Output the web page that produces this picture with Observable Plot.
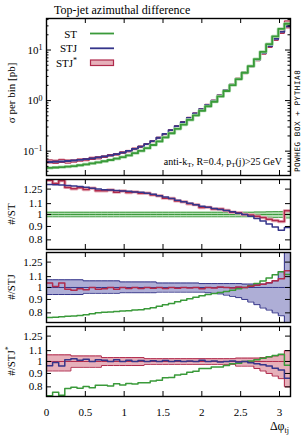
<!DOCTYPE html>
<html><head><meta charset="utf-8">
<script src="https://cdn.jsdelivr.net/npm/d3@7"></script>
<script src="https://cdn.jsdelivr.net/npm/@observablehq/plot@0.6"></script>
<style>
body{margin:0;background:#fff;}
#wrap{position:relative;width:305px;height:436px;overflow:hidden;}
#wrap svg{position:absolute;left:0;}
</style></head><body><div id="wrap"></div>
<script>
// ---- data (40 bins of Δφ_tj from 0 to π) ----
const nBins = 40;
const xTicks = [0, 0.5, 1, 1.5, 2, 2.5, 3];
const yTicksMain = [0.1, 1, 10];
const yTicksRatio = [0.8, 0.9, 1, 1.1, 1.25];
// cross sections per bin [pb]
const st = [0.0469,0.0475,0.0482,0.0495,0.0508,0.0526,0.0547,0.0571,0.0600,0.0631,
  0.0668,0.0710,0.0763,0.0824,0.0910,0.1012,0.1145,0.1322,0.156,0.188,
  0.226,0.276,0.336,0.414,0.510,0.629,0.772,0.948,1.206,1.546,
  2.02,2.66,3.55,4.80,6.61,9.22,13.04,18.55,26.3,33.1];
const stj = [0.0610,0.0617,0.0624,0.0638,0.0653,0.0673,0.0695,0.0719,0.0750,0.0785,
  0.0828,0.0877,0.0938,0.101,0.111,0.123,0.138,0.158,0.184,0.219,
  0.260,0.313,0.376,0.457,0.556,0.676,0.822,1.0,1.26,1.60,
  2.07,2.69,3.55,4.73,6.38,8.71,12.0,16.6,22.9,29.5];
const stjStar = [0.0634,0.0623,0.0649,0.0628,0.0637,0.0666,0.0681,0.0719,0.0739,0.0777,
  0.0828,0.0864,0.0938,0.100,0.111,0.122,0.138,0.157,0.184,0.217,
  0.260,0.311,0.376,0.455,0.556,0.669,0.822,0.995,1.266,1.60,
  2.06,2.70,3.55,4.78,6.51,8.97,12.5,17.6,24.7,34.2];
// relative uncertainty bands (up / down)
const stUp = [.02,.02,.02,.02,.02,.02,.02,.02,.02,.02,.02,.02,.02,.02,.02,.02,.02,.02,.02,.02,
  .02,.02,.02,.02,.02,.02,.02,.02,.02,.02,.02,.02,.02,.02,.022,.022,.024,.025,.025,.03];
const stDown = [.02,.02,.02,.02,.02,.02,.02,.02,.02,.02,.02,.02,.02,.02,.02,.02,.02,.02,.02,.02,
  .02,.02,.02,.02,.02,.02,.02,.02,.02,.02,.02,.02,.02,.02,.022,.022,.024,.025,.025,.03];
const stjUp = [.07,.07,.07,.07,.07,.07,.06,.06,.06,.06,.06,.06,.05,.05,.05,.05,.05,.05,.04,.04,
  .04,.04,.04,.04,.04,.035,.035,.035,.035,.035,.035,.035,.03,.03,.03,.03,.04,.06,.15,.5];
const stjDown = [.06,.06,.06,.06,.06,.06,.05,.05,.05,.05,.05,.05,.045,.045,.045,.045,.045,.045,.04,.04,
  .04,.04,.04,.04,.04,.04,.045,.05,.055,.065,.075,.085,.1,.12,.14,.165,.18,.2,.22,.5];
const stjStarUp = [.06,.06,.06,.06,.05,.05,.05,.05,.05,.035,.035,.035,.035,.035,.035,.035,.025,.025,.025,.025,
  .025,.025,.025,.025,.025,.025,.025,.025,.025,.025,.025,.03,.03,.03,.03,.035,.04,.05,.06,.1];
const stjStarDown = [.08,.08,.08,.08,.05,.05,.05,.05,.05,.035,.035,.035,.035,.035,.035,.035,.025,.025,.025,.025,
  .025,.025,.025,.025,.025,.025,.025,.025,.025,.025,.025,.04,.04,.04,.06,.08,.1,.12,.14,.2];

// ---- styling ----
const GREEN = "#3a9a3a", GREEN_L = "#b4deb4";
const BLUE = "#35358a", BLUE_F = "#aeaed6";
const RED = "#b02a4c", RED_F = "#e6b0ba";
const FONT = "'Liberation Serif','DejaVu Serif',serif";

const edges = d3.range(nBins + 1).map(i => i * Math.PI / nBins);
const steps = vals => {
  const p = vals.map((v, i) => ({x: edges[i], y: v}));
  p.push({x: edges[nBins], y: vals[nBins - 1]});
  return p;
};
const ratio = (a, b) => a.map((v, i) => v / b[i]);
const bandSteps = (up, down) => {
  const p = up.map((u, i) => ({x: edges[i], y1: 1 - down[i], y2: 1 + u}));
  p.push({x: edges[nBins], y1: 1 - down[nBins - 1], y2: 1 + up[nBins - 1]});
  return p;
};
const absBand = (vals, up, down) => {
  const p = vals.map((v, i) => ({x: edges[i], y1: v * (1 - down[i]), y2: v * (1 + up[i])}));
  p.push({x: edges[nBins], y1: p[nBins - 1].y1, y2: p[nBins - 1].y2});
  return p;
};
const line = (vals, stroke, w = 1.5) => Plot.line(steps(vals), {x: "x", y: "y", curve: "step-after", stroke, strokeWidth: w, clip: true});
const ones = new Array(nBins).fill(1);

const ML = 46, MR = 15, W = 305, PW = W - ML - MR;
const wrap = document.getElementById("wrap");
const NS = "http://www.w3.org/2000/svg";

function tickMarks(h, yVals, minor) {
  const m = [
    Plot.tickX(xTicks, {x: d => d, insetTop: h - 5, stroke: "#000", strokeWidth: 1}),
    Plot.tickX(xTicks, {x: d => d, insetBottom: h - 5, stroke: "#000", strokeWidth: 1}),
    Plot.tickY(yVals, {y: d => d, insetRight: PW - 5, stroke: "#000", strokeWidth: 1}),
    Plot.tickY(yVals, {y: d => d, insetLeft: PW - 5, stroke: "#000", strokeWidth: 1})
  ];
  if (minor) {
    m.push(Plot.tickY(minor, {y: d => d, insetRight: PW - 2.5, stroke: "#000", strokeWidth: 1}));
    m.push(Plot.tickY(minor, {y: d => d, insetLeft: PW - 2.5, stroke: "#000", strokeWidth: 1}));
  }
  return m;
}
const yLabels = (vals, fmt) => Plot.text(vals, {y: d => d, text: fmt, frameAnchor: "left", dx: -4, textAnchor: "end", lineAnchor: "middle", fontSize: 11});

function panel(top, h, yOpts, marks, last) {
  const mb = last ? 40 : 1;
  const svg = Plot.plot({
    width: W, height: h + 1 + mb,
    marginLeft: ML, marginRight: MR, marginTop: 1, marginBottom: mb,
    style: {fontFamily: FONT, fontSize: "11px", background: "transparent", color: "#000", overflow: "visible"},
    x: {domain: [0, Math.PI], axis: null},
    y: {...yOpts, axis: null},
    marks
  });
  svg.style.top = (top - 1) + "px";
  wrap.appendChild(svg);
  return svg;
}

// ---- main panel ----
const minorMain = [];
for (const dec of [0.01, 0.1, 1, 10]) for (let k = 2; k <= 9; k++) {
  const v = k * dec; if (v > 0.033 && v < 42) minorMain.push(v);
}
const mainSvg = panel(18, 157, {type: "log", domain: [0.033, 42]}, [
  Plot.areaY(absBand(stjStar, stjStarUp, stjStarDown), {x: "x", y1: "y1", y2: "y2", curve: "step-after", fill: RED_F, clip: true}),
  line(stjStar.map((v, i) => v * (1 + stjStarUp[i])), RED, 1),
  line(stjStar.map((v, i) => v * (1 - stjStarDown[i])), RED, 1),
  line(stj, BLUE, 1.8),
  line(st, GREEN_L, 3.2),
  line(st, GREEN, 1.8),
  ...tickMarks(157, yTicksMain, minorMain),
  yLabels(yTicksMain, d => "10^" + Math.round(Math.log10(d))),
  Plot.frame({stroke: "#000", strokeWidth: 1.4})
]);
mainSvg.querySelectorAll("text").forEach(t => {
  const m = t.textContent.match(/^10\^(.+)$/);
  if (!m) return;
  t.textContent = "";
  const a = document.createElementNS(NS, "tspan"); a.textContent = "10";
  const b = document.createElementNS(NS, "tspan"); b.textContent = m[1].replace("-", "\u2212");
  b.setAttribute("dy", "-0.45em"); b.setAttribute("font-size", "8");
  t.append(a, b);
});

const ratioY = {type: "log", domain: [0.735, 1.36]};
const ratioLabels = () => yLabels(yTicksRatio, d => String(d));

// ---- #/ST ----
panel(179, 70, ratioY, [
  Plot.areaY(bandSteps(stUp, stDown), {x: "x", y1: "y1", y2: "y2", curve: "step-after", fill: GREEN_L, clip: true}),
  line(stUp.map(u => 1 + u), GREEN, 1),
  line(stDown.map(d => 1 - d), GREEN, 1),
  line(ones, GREEN, 1),
  line(ratio(stjStar, st), RED_F, 3.4),
  line(ratio(stjStar, st), RED, 1.5),
  line(ratio(stj, st), BLUE, 1.5),
  ...tickMarks(70, yTicksRatio),
  ratioLabels(),
  Plot.frame({stroke: "#000", strokeWidth: 1.4})
]);

// ---- #/STJ ----
panel(252, 70, ratioY, [
  Plot.areaY(bandSteps(stjUp, stjDown), {x: "x", y1: "y1", y2: "y2", curve: "step-after", fill: BLUE_F, clip: true}),
  line(stjUp.map(u => 1 + u), BLUE, 1),
  line(stjDown.map(d => 1 - d), BLUE, 1),
  line(ones, BLUE, 1),
  line(ratio(st, stj), GREEN, 1.5),
  line(ratio(stjStar, stj), RED, 1.5),
  ...tickMarks(70, yTicksRatio),
  ratioLabels(),
  Plot.frame({stroke: "#000", strokeWidth: 1.4})
]);

// ---- #/STJ* ----
panel(326, 70, ratioY, [
  Plot.areaY(bandSteps(stjStarUp, stjStarDown), {x: "x", y1: "y1", y2: "y2", curve: "step-after", fill: RED_F, clip: true}),
  line(stjStarUp.map(u => 1 + u), RED, 1),
  line(stjStarDown.map(d => 1 - d), RED, 1),
  line(ones, RED, 1),
  line(ratio(st, stjStar), GREEN, 1.5),
  line(ratio(stj, stjStar), BLUE, 1.5),
  ...tickMarks(70, yTicksRatio),
  ratioLabels(),
  Plot.text(xTicks, {x: d => d, text: d => String(d), frameAnchor: "bottom", dy: 15.5, lineAnchor: "middle", fontSize: 11}),
  Plot.frame({stroke: "#000", strokeWidth: 1.4})
], true);

// ---- overlay texts & legend ----
const ov = document.createElementNS(NS, "svg");
ov.setAttribute("width", W); ov.setAttribute("height", 436);
ov.style.top = "0px";
ov.setAttribute("font-family", FONT);
ov.innerHTML = `
<text x="54" y="13.5" font-size="12">Top-jet azimuthal difference</text>
<text transform="translate(15,93) rotate(-90)" text-anchor="middle" font-size="11">σ per bin [pb]</text>
<text transform="translate(15,214) rotate(-90)" text-anchor="middle" font-size="11">#/ST</text>
<text transform="translate(15,287) rotate(-90)" text-anchor="middle" font-size="11">#/STJ</text>
<text transform="translate(15,361) rotate(-90)" text-anchor="middle" font-size="11">#/STJ<tspan dy="-4" font-size="8">*</tspan></text>
<text x="77" y="37.5" text-anchor="end" font-size="11">ST</text>
<text x="77" y="52" text-anchor="end" font-size="11">STJ</text>
<text x="77" y="66.5" text-anchor="end" font-size="11">STJ<tspan dy="-4" font-size="8">*</tspan></text>
<line x1="90" x2="114" y1="33.5" y2="33.5" stroke="${GREEN}" stroke-width="1.8"/>
<line x1="90" x2="114" y1="48.3" y2="48.3" stroke="${BLUE}" stroke-width="1.8"/>
<rect x="90.5" y="60" width="23" height="5.5" fill="${RED_F}" stroke="${RED}" stroke-width="1.2"/>
<text x="282" y="165" text-anchor="end" font-size="10">anti-k<tspan dy="2" font-size="7">T</tspan><tspan dy="-2">, R=0.4, p</tspan><tspan dy="2" font-size="7">T</tspan><tspan dy="-2">(j)&gt;25 GeV</tspan></text>
<text transform="translate(300,172) rotate(-90)" font-size="7.5" font-family="'DejaVu Sans Mono',monospace" letter-spacing="0.6">POWHEG BOX + PYTHIA8</text>
<text x="289" y="430" text-anchor="end" font-size="12">Δφ<tspan dy="2.5" font-size="8">tj</tspan></text>
`;
wrap.appendChild(ov);
</script>
</body></html>
